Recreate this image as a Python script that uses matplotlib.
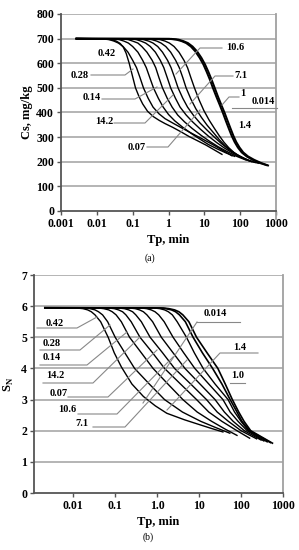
import matplotlib
matplotlib.use("Agg")
import matplotlib.pyplot as plt
from matplotlib.lines import Line2D

plt.rcParams['font.family'] = ['Liberation Serif', 'DejaVu Serif']

# ---- (a) Cs vs Tp
top_tp = [
    [0.0027, 0.015, 0.025, 0.035, 0.045, 0.055, 0.066, 0.08, 0.098, 0.12, 0.15, 0.19, 0.26, 0.38, 0.55, 0.8, 1.3, 2.2, 3.8, 6.5, 11, 18, 31],
    [0.0027, 0.014, 0.022, 0.03, 0.04, 0.054, 0.074, 0.1, 0.128, 0.16, 0.2, 0.27, 0.37, 0.54, 0.8, 1.4, 2.5, 4.5, 9, 18, 33, 59],
    [0.0027, 0.026, 0.042, 0.057, 0.076, 0.1, 0.14, 0.19, 0.24, 0.3, 0.38, 0.52, 0.71, 1.0, 1.5, 2.5, 4.3, 7.5, 13, 23, 40, 70],
    [0.0027, 0.046, 0.075, 0.1, 0.14, 0.18, 0.25, 0.35, 0.44, 0.54, 0.68, 0.92, 1.26, 1.8, 2.8, 4.6, 8, 14, 25, 45, 80, 145],
    [0.0027, 0.078, 0.126, 0.17, 0.23, 0.31, 0.43, 0.59, 0.74, 0.92, 1.15, 1.56, 2.1, 3.1, 4.7, 7.8, 13, 22, 37, 62, 105, 180],
    [0.0027, 0.125, 0.2, 0.28, 0.37, 0.5, 0.68, 0.94, 1.18, 1.48, 1.85, 2.5, 3.4, 5, 7.5, 12, 19, 30, 48, 78, 125, 210],
    [0.0027, 0.21, 0.34, 0.47, 0.62, 0.84, 1.15, 1.58, 2.0, 2.5, 3.1, 4.2, 5.8, 8.3, 12, 18, 26, 38, 57, 88, 145, 260],
    [0.0027, 0.36, 0.58, 0.8, 1.06, 1.43, 1.96, 2.7, 3.4, 4.2, 5.3, 7.1, 9.7, 13.5, 19, 26, 35, 48, 68, 100, 170, 320],
    [0.0027, 1.05, 1.65, 2.3, 3.1, 4.2, 5.6, 7.4, 9.4, 11.6, 14.3, 17.3, 21.5, 27, 33, 40, 48, 58, 70, 86, 110, 150, 220, 350, 550],
    [0.0027, 1.2, 1.9, 2.6, 3.5, 4.7, 6.3, 8.3, 10.5, 13, 16, 19.5, 24, 30, 37, 45, 54, 65, 78, 96, 122, 165, 245, 385, 600],
]
top_cs = [
    [700, 699, 696, 690, 680, 665, 640, 600, 550, 500, 465, 435, 405, 383, 368, 355, 340, 322, 302, 285, 268, 250, 230],
    [700, 699, 696, 690, 682, 668, 645, 612, 582, 542, 500, 458, 422, 395, 375, 355, 335, 315, 292, 268, 246, 224],
    [700, 699, 696, 690, 682, 668, 645, 612, 582, 542, 500, 458, 422, 392, 366, 340, 315, 292, 270, 252, 236, 222],
    [700, 699, 696, 690, 682, 668, 645, 612, 582, 542, 500, 458, 422, 390, 362, 335, 308, 283, 260, 240, 222, 207],
    [700, 699, 696, 690, 682, 668, 645, 612, 582, 542, 500, 458, 422, 390, 362, 332, 304, 278, 255, 235, 218, 203],
    [700, 699, 696, 690, 682, 668, 645, 612, 582, 542, 500, 458, 422, 388, 358, 328, 300, 274, 250, 231, 215, 200],
    [700, 699, 696, 690, 682, 668, 645, 612, 582, 542, 500, 455, 415, 380, 348, 318, 290, 265, 243, 225, 210, 197],
    [700, 699, 696, 690, 682, 668, 645, 612, 582, 542, 500, 452, 408, 370, 336, 306, 280, 257, 237, 220, 205, 194],
    [700, 699, 696, 690, 682, 668, 648, 622, 595, 565, 533, 500, 465, 430, 398, 365, 335, 305, 280, 258, 238, 222, 208, 195, 186],
    [700, 699, 696, 690, 682, 668, 648, 622, 595, 565, 533, 500, 465, 430, 398, 365, 335, 305, 280, 258, 238, 222, 208, 195, 185],
]
top_ticks = [0.001, 0.01, 0.1, 1, 10, 100, 1000]
top_ticklabels = ['0.001', '0.01', '0.1', '1', '10', '100', '1000']
top_labels = ['0.42', '0.28', '0.14', '14.2', '0.07', '10.6', '7.1', '1', '0.014', '1.4']

# ---- (b) SN vs Tp
bot_tp = [
    [0.0021, 0.012, 0.017, 0.022, 0.027, 0.033, 0.045, 0.068, 0.095, 0.14, 0.25, 0.47, 0.9, 1.7, 4.5, 10.5, 20, 37],
    [0.0021, 0.018, 0.025, 0.033, 0.04, 0.05, 0.066, 0.1, 0.17, 0.29, 0.65, 1.5, 4, 11, 25, 54],
    [0.0021, 0.04, 0.053, 0.07, 0.085, 0.105, 0.14, 0.22, 0.42, 0.8, 1.8, 4.1, 9, 20, 42, 80],
    [0.0021, 0.07, 0.095, 0.12, 0.15, 0.18, 0.24, 0.39, 0.78, 1.5, 3.6, 8.7, 17, 35, 80, 160],
    [0.0021, 0.12, 0.165, 0.21, 0.26, 0.31, 0.42, 0.68, 1.35, 2.6, 6.3, 15, 27, 50, 100, 235],
    [0.0021, 0.22, 0.3, 0.38, 0.47, 0.57, 0.78, 1.26, 2.4, 4.6, 10.5, 24, 40, 65, 120, 300],
    [0.0021, 0.42, 0.56, 0.72, 0.89, 1.09, 1.47, 2.4, 4.3, 7.9, 17, 37, 55, 85, 140, 350],
    [0.0021, 0.85, 1.15, 1.5, 1.85, 2.3, 3.0, 5.0, 7.7, 12.5, 24, 49, 70, 100, 150, 420],
    [0.0021, 1.2, 1.6, 2.2, 2.75, 3.4, 4.7, 7.2, 12, 21, 35, 55, 80, 105, 160, 500],
    [0.0021, 1.4, 1.9, 2.6, 3.3, 4.1, 5.7, 8.7, 15.5, 28, 42, 62, 88, 118, 170, 560],
]
bot_sn = [
    [5.95, 5.94, 5.92, 5.88, 5.82, 5.72, 5.5, 5.0, 4.5, 4.05, 3.5, 3.1, 2.8, 2.56, 2.35, 2.19, 2.07, 1.96],
    [5.95, 5.94, 5.92, 5.88, 5.82, 5.72, 5.5, 5.0, 4.5, 4.0, 3.5, 3.0, 2.6, 2.3, 2.1, 1.92],
    [5.95, 5.94, 5.92, 5.88, 5.82, 5.72, 5.5, 5.0, 4.5, 4.0, 3.5, 3.0, 2.6, 2.3, 2.05, 1.85],
    [5.95, 5.94, 5.92, 5.88, 5.82, 5.72, 5.5, 5.0, 4.5, 4.0, 3.5, 3.0, 2.6, 2.3, 2.0, 1.76],
    [5.95, 5.94, 5.92, 5.88, 5.82, 5.72, 5.5, 5.0, 4.5, 4.0, 3.5, 3.0, 2.6, 2.3, 2.0, 1.74],
    [5.95, 5.94, 5.92, 5.88, 5.82, 5.72, 5.5, 5.0, 4.5, 4.0, 3.5, 3.0, 2.6, 2.3, 2.0, 1.70],
    [5.95, 5.94, 5.92, 5.88, 5.82, 5.72, 5.5, 5.0, 4.5, 4.0, 3.5, 3.0, 2.6, 2.3, 2.0, 1.67],
    [5.95, 5.94, 5.92, 5.88, 5.82, 5.72, 5.5, 5.0, 4.5, 4.0, 3.5, 3.0, 2.6, 2.3, 2.0, 1.64],
    [5.95, 5.94, 5.92, 5.88, 5.82, 5.72, 5.5, 5.0, 4.5, 4.0, 3.5, 3.0, 2.6, 2.3, 2.0, 1.62],
    [5.95, 5.94, 5.92, 5.88, 5.82, 5.72, 5.5, 5.0, 4.5, 4.0, 3.5, 3.0, 2.6, 2.3, 2.0, 1.60],
]
bot_ticks = [0.01, 0.1, 1, 10, 100, 1000]
bot_ticklabels = ['0.01', '0.1', '1.0', '10', '100', '1000']
bot_labels = ['0.014', '1.4', '1.0', '0.42', '0.28', '0.14', '14.2', '0.07', '10.6', '7.1']

W, H = 299, 550
fig = plt.figure(figsize=(W / 100, H / 100), dpi=100)


def setup(ax, ymax, ystep):
    ax.set_xscale('log')
    ax.set_ylim(0, ymax)
    for y in range(ystep, ymax + 1, ystep):
        ax.axhline(y, color='#a0a0a0', lw=1.1, zorder=0)
    for s in ['top', 'right']:
        ax.spines[s].set_visible(False)
    for s in ['left', 'bottom']:
        ax.spines[s].set_color('#555555')
        ax.spines[s].set_linewidth(1.3)
    ax.minorticks_off()
    ax.tick_params(axis='both', length=3, width=1, color='#555555', labelsize=8.5, pad=2)


def leader(pts):
    # thin grey pointer lines, given in figure pixels
    xs = [p[0] / W for p in pts]
    ys = [1 - p[1] / H for p in pts]
    fig.add_artist(Line2D(xs, ys, color='#888888', lw=0.8, transform=fig.transFigure))


def label(txt, px, py, size=7.5):
    fig.text(px / W, 1 - py / H, txt, ha='center', va='center', fontsize=size, fontweight='bold')


# ---------------- panel (a)
ax1 = fig.add_axes([61 / W, 1 - 211 / H, 215 / W, 197 / H])
for i, (xs, ys) in enumerate(zip(top_tp, top_cs)):
    ax1.plot(xs, ys, color='black', lw=1.4 if i >= 8 else 1.0, zorder=3)
ax1.set_xlim(0.001, 1000)
setup(ax1, 800, 100)
ax1.set_xticks(top_ticks)
ax1.set_xticklabels(top_ticklabels, fontweight='bold')
ax1.set_yticks(range(0, 801, 100))
ax1.set_yticklabels([str(v) for v in range(0, 801, 100)], fontweight='bold')
ax1.axvline(1000, color='#a0a0a0', lw=1.3, ymin=-0.04, ymax=1.0, clip_on=False)
ax1.set_xlabel('Tp, min', fontsize=9, fontweight='bold', labelpad=3)
ax1.set_ylabel('Cs, mg/kg', fontsize=9, fontweight='bold', labelpad=2)

top_pos = [(107, 54), (80, 75), (92, 98), (104, 122), (137, 147),
           (235, 48), (241, 76), (243, 94), (263, 101), (245, 126)]
for txt, (px, py) in zip(top_labels, top_pos):
    label(txt, px, py)
leader([(91, 75), (125, 75), (133, 69)])
leader([(102, 99), (135, 99), (157, 87)])
leader([(114, 123), (145, 123), (173, 95)])
leader([(147, 147), (168, 147), (200, 110)])
leader([(222, 48), (200, 48), (176, 74)])
leader([(233, 76), (215, 76), (190, 104)])
leader([(239, 97), (229, 97), (222, 105)])
leader([(232, 108), (277, 108)])
fig.text(150 / W, 1 - 258 / H, '(a)', ha='center', va='center', fontsize=7)

# ---------------- panel (b)
ax2 = fig.add_axes([34 / W, 1 - 493 / H, 249 / W, 218 / H])
for i, (xs, ys) in enumerate(zip(bot_tp, bot_sn)):
    ax2.plot(xs, ys, color='black', lw=1.2 if i >= 8 else 1.0, zorder=3)
ax2.set_xlim(0.00116, 1000)
setup(ax2, 7, 1)
ax2.set_xticks(bot_ticks)
ax2.set_xticklabels(bot_ticklabels, fontweight='bold')
ax2.set_yticks(range(0, 8))
ax2.set_yticklabels([str(v) for v in range(0, 8)], fontweight='bold')
ax2.axvline(1000, color='#a0a0a0', lw=1.3, ymin=0, ymax=1.0, clip_on=False)
ax2.set_xlabel('Tp, min', fontsize=9, fontweight='bold', labelpad=3)
ax2.set_ylabel(r'S$_\mathregular{N}$', fontsize=9, fontweight='bold', labelpad=4)

bot_pos = [(215, 313), (240, 348), (238, 376), (55, 323), (52, 344),
           (52, 357), (55, 375), (59, 394), (67, 409), (82, 424)]
for txt, (px, py) in zip(bot_labels, bot_pos):
    label(txt, px, py)
leader([(197, 322), (240, 322)])
leader([(197, 322), (143, 403)])
leader([(258, 353), (220, 353), (167, 410)])
leader([(230, 383), (245, 383)])
leader([(37, 328), (77, 328), (97, 317)])
leader([(40, 350), (80, 350), (110, 325)])
leader([(40, 365), (87, 365), (127, 332)])
leader([(43, 383), (93, 383), (140, 337)])
leader([(68, 397), (108, 397), (157, 350)])
leader([(78, 414), (117, 414), (173, 357)])
leader([(93, 427), (125, 427), (187, 360)])
fig.text(148 / W, 1 - 537 / H, '(b)', ha='center', va='center', fontsize=7)

fig.savefig('out.png', dpi=100)
